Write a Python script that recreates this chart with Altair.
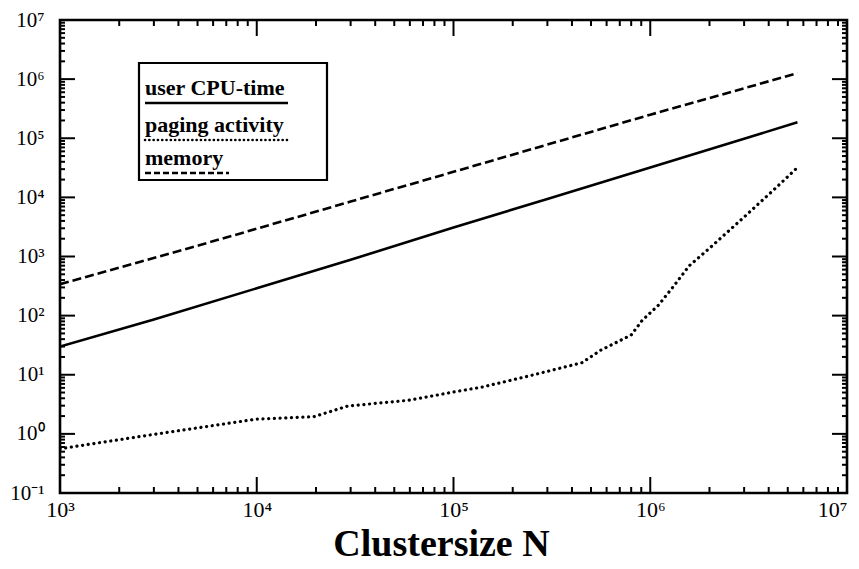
import altair as alt
import pandas as pd
import math

# ---------------- data ----------------
cpu_N = [1e3, 3e3, 1e4, 3e4, 1e5, 3e5, 1e6, 3e6, 5.6e6]
cpu_T = [30, 86, 290, 880, 3100, 9400, 32000, 98000, 186000]

mem_N = [1e3, 5.1e3, 1e4, 3e4, 1e5, 3e5, 5.4e5, 1e6, 3e6, 5.6e6]
mem_V = [340, 1550, 2950, 8500, 27000, 78000, 138000, 250000, 700000, 1260000]

pag_N = [1e3, 3e3, 1e4, 1.95e4, 2.9e4, 5.9e4, 1e5, 1.4e5, 2.5e5, 4.5e5, 5.6e5,
         8e5, 9.1e5, 1.1e6, 1.3e6, 1.58e6, 2e6, 2.9e6, 4.2e6, 5.6e6]
pag_V = [0.56, 0.98, 1.78, 1.95, 2.95, 3.7, 5.1, 6.2, 9.8, 16, 26,
         47, 83, 150, 300, 700, 1380, 4200, 13000, 32000]

series_names = ["user CPU-time", "paging activity", "memory"]

x_major = [1e3, 1e4, 1e5, 1e6, 1e7]
x_labels = ["10³", "10⁴", "10⁵", "10⁶", "10⁷"]
y_major = [1e-1, 1e0, 1e1, 1e2, 1e3, 1e4, 1e5, 1e6, 1e7]
y_labels = ["10⁻¹", "10⁰", "10¹", "10²", "10³", "10⁴", "10⁵", "10⁶", "10⁷"]

x_minor = [m * 10 ** k for k in range(3, 7) for m in range(2, 10)]
y_minor = [m * 10.0 ** k for k in range(-1, 7) for m in range(2, 10)]

# ---------------- layout ----------------
W, H = 787, 473
FONT = "Liberation Serif"
XD = [1e3, 1e7]
YD = [1e-1, 1e7]


def expr_for(values, labels):
    parts = []
    for v, l in zip(values, labels):
        parts.append(f"abs(log(datum.value)/LN10 - ({math.log10(v)})) < 0.01 ? '{l}'")
    return " : ".join(parts) + " : ''"


xs = alt.Scale(type="log", domain=XD, nice=False)
ys = alt.Scale(type="log", domain=YD, nice=False)

rows = []
for n, v in zip(cpu_N, cpu_T):
    rows.append({"N": n, "v": v, "s": series_names[0]})
for n, v in zip(pag_N, pag_V):
    rows.append({"N": n, "v": v, "s": series_names[1]})
for n, v in zip(mem_N, mem_V):
    rows.append({"N": n, "v": v, "s": series_names[2]})
df = pd.DataFrame(rows)

xaxis = alt.Axis(values=x_major, labelExpr=expr_for(x_major, x_labels), ticks=False,
                 domain=False, grid=False, labelFont=FONT, labelFontSize=22,
                 labelColor="black", labelPadding=6, title="Clustersize N",
                 labelAlign={"condition": {"test": "datum.value > 5000000", "value": "right"},
                             "value": "center"},
                 titleFont=FONT, titleFontSize=38, titleFontWeight="bold",
                 titleColor="black", titlePadding=5, titleX=381, titleAlign="center",
                 labelFlush=False, labelBound=False, labelOverlap=False)
yaxis = alt.Axis(values=y_major, labelExpr=expr_for(y_major, y_labels), ticks=False,
                 domain=False, grid=False, labelFont=FONT, labelFontSize=21,
                 labelColor="black", labelPadding=16, title=None, labelFlush=False,
                 labelBound=False, labelOverlap=False)

base = alt.Chart(df)
cpu = base.transform_filter(alt.datum.s == series_names[0]).mark_line(
    color="black", strokeWidth=2.6, clip=True).encode(
    x=alt.X("N:Q", scale=xs, axis=xaxis), y=alt.Y("v:Q", scale=ys, axis=yaxis))
pag = base.transform_filter(alt.datum.s == series_names[1]).mark_line(
    color="black", strokeWidth=3.2, strokeDash=[0.1, 5.6], strokeCap="round", clip=True).encode(
    x=alt.X("N:Q", scale=xs), y=alt.Y("v:Q", scale=ys))
mem = base.transform_filter(alt.datum.s == series_names[2]).mark_line(
    color="black", strokeWidth=2.6, strokeDash=[9, 4], clip=True).encode(
    x=alt.X("N:Q", scale=xs), y=alt.Y("v:Q", scale=ys))


# ---- inward tick marks on all four sides ----
def xticks(vals, ln):
    d = pd.DataFrame({"t": vals})
    b = alt.Chart(d).mark_rule(color="black", strokeWidth=2)
    bot = b.encode(x=alt.X("t:Q", scale=xs), y=alt.value(H), y2=alt.value(H - ln))
    top = b.encode(x=alt.X("t:Q", scale=xs), y=alt.value(0), y2=alt.value(ln))
    return [bot, top]


def yticks(vals, ln):
    d = pd.DataFrame({"t": vals})
    b = alt.Chart(d).mark_rule(color="black", strokeWidth=2)
    lef = b.encode(y=alt.Y("t:Q", scale=ys), x=alt.value(0), x2=alt.value(ln))
    rig = b.encode(y=alt.Y("t:Q", scale=ys), x=alt.value(W), x2=alt.value(W - ln))
    return [lef, rig]


ticks = xticks(x_major[1:-1], 16) + xticks(x_minor, 6) + yticks(y_major[1:-1], 15) + yticks(y_minor, 5)

# ---- legend box drawn by hand ----
one = pd.DataFrame({"a": [0]})
box = alt.Chart(one).mark_rect(fill="white", stroke="black", strokeWidth=2.2).encode(
    x=alt.value(79), x2=alt.value(267), y=alt.value(43), y2=alt.value(160))

text_y = [75, 112, 145]
line_y = [83, 120, 153]
line_x2 = [228, 229, 169]
dashes = [None, [0.1, 4.2], [6, 3]]

legend_layers = [box]
for name, ty, ly, lx2, dash in zip(series_names, text_y, line_y, line_x2, dashes):
    legend_layers.append(
        alt.Chart(one).mark_text(align="left", baseline="alphabetic", font=FONT, fontSize=22,
                                 fontWeight="bold", color="black").encode(
            x=alt.value(85), y=alt.value(ty), text=alt.value(name)))
    kw = dict(color="black", strokeWidth=2.6)
    if dash is not None:
        kw["strokeDash"] = dash
        kw["strokeCap"] = "round" if dash[0] < 1 else "butt"
    legend_layers.append(
        alt.Chart(one).mark_rule(**kw).encode(
            x=alt.value(85), x2=alt.value(lx2), y=alt.value(ly)))

chart = alt.layer(cpu, pag, mem, *ticks, *legend_layers).properties(
    width=W, height=H,
    padding={"left": 52, "top": 12, "right": 4, "bottom": 70},
    autosize=alt.AutoSizeParams(type="none"),
    background="white",
).configure_view(stroke="black", strokeWidth=2.6)

chart.save("out.html", embed_options={"renderer": "svg", "actions": False})
